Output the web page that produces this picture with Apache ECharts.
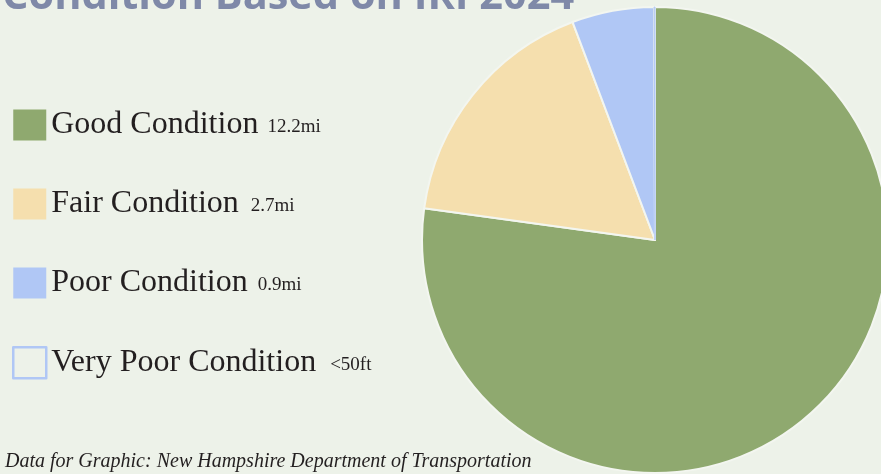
<!DOCTYPE html>
<html><head><meta charset="utf-8">
<script src="https://cdn.jsdelivr.net/npm/echarts@6/dist/echarts.min.js"></script>
<style>html,body{margin:0;padding:0;background:#edf2e9;}#c{width:881px;height:474px;}</style>
</head><body><div id="c"></div>
<script>
const categories = ['Good Condition', 'Fair Condition', 'Poor Condition', 'Very Poor Condition'];
const valuesMi = [12.2, 2.7, 0.9, 0.0095];
const valueLabels = ['12.2mi', '2.7mi', '0.9mi', '<50ft'];
const colors = ['#8fa96f', '#f5dfae', '#b0c7f5', '#edf2e9'];
const titleText = 'Condition Based on IRI 2024';
const sourceText = 'Data for Graphic: New Hampshire Department of Transportation';

const bg = '#edf2e9';
const chart = echarts.init(document.getElementById('c'));
const gapPad = [9, 12, 10, 14];
const rich = {n: {fontFamily: 'Liberation Serif', fontSize: 32, lineHeight: 31, color: '#231f20'}};
gapPad.forEach((p, i) => {
  rich['v' + i] = {fontFamily: 'Liberation Serif', fontSize: 19, lineHeight: 31, color: '#231f20', padding: [5, 0, 0, p]};
});
chart.setOption({
  backgroundColor: bg,
  animation: false,
  title: {
    text: titleText, left: -3, top: -29,
    textStyle: {fontFamily: 'Open Sans', fontWeight: 'bold', fontSize: 41.5, color: '#7f89a8'}
  },
  legend: {
    orient: 'vertical', left: 7, top: 104,
    itemWidth: 33, itemHeight: 31, itemGap: 47,
    icon: 'rect',
    data: categories.map((c, i) => ({
      name: c,
      itemStyle: i === 3 ? {color: bg, borderColor: '#b0c7f5', borderWidth: 2.5} : {borderWidth: 0}
    })),
    formatter: name => {
      const i = categories.indexOf(name);
      return '{n|' + name + '}{v' + i + '|' + valueLabels[i] + '}';
    },
    textStyle: {rich: rich},
    selectedMode: false
  },
  graphic: [{
    type: 'text', left: 5, top: 452,
    style: {text: sourceText, font: 'italic 20px "Liberation Serif"', fill: '#231f20'}
  }],
  series: [{
    type: 'pie',
    center: [655, 240], radius: 233,
    startAngle: 90, clockwise: true,
    label: {show: false}, labelLine: {show: false},
    emphasis: {disabled: true},
    itemStyle: {borderColor: '#f3f6f0', borderWidth: 2},
    data: categories.map((c, i) => ({
      name: c, value: valuesMi[i],
      itemStyle: i === 3 ? {color: colors[i], borderColor: '#b0c7f5', borderWidth: 1} : {color: colors[i]}
    }))
  }]
});
</script></body></html>
